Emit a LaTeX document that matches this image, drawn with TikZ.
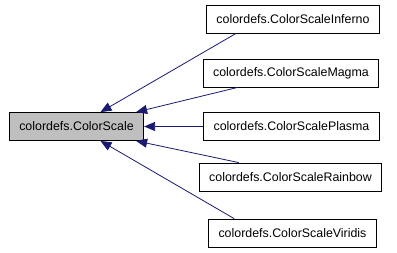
\documentclass[tikz,border=0pt]{standalone}
\usepackage{fontspec}
\setmainfont{Liberation Sans}
\usetikzlibrary{arrows.meta,calc}
\definecolor{edgeblue}{RGB}{25,25,112}
\tikzset{
  x=1pt, y=-1pt,
  cls/.style = {rectangle, draw=black, line width=0.8pt, fill=white, inner xsep=10pt, inner ysep=0pt,
    minimum height=28pt, font=\fontsize{12.4}{14}\selectfont},
  cls_base/.style = {cls, fill={rgb,255:red,191;green,191;blue,191}},
  inherit/.style = {draw=edgeblue, line width=0.8pt, -{Triangle[length=11pt,width=9pt,fill=edgeblue]}}
}

\begin{document}
\begin{tikzpicture}
\useasboundingbox (0,0) rectangle (397,253);
% base class
\node [cls_base] (base) at (76.5,126.5) {colordefs.ColorScale};
% derived classes
\node [cls] (inf) at (293,19) {colordefs.ColorScaleInferno};
\node [cls] (mag) at (291,73) {colordefs.ColorScaleMagma};
\node [cls] (pla) at (291.5,126.5) {colordefs.ColorScalePlasma};
\node [cls] (rai) at (290.5,177) {colordefs.ColorScaleRainbow};
\node [cls] (vir) at (292.5,233) {colordefs.ColorScaleViridis};
% inheritance edges
\draw [inherit] ($(inf.south west)+(30,0)$) -- ($(base.north)+(24,0)$);
\draw [inherit] ($(mag.south west)+(35,0)$) -- ($(base.north east)+(-8,0)$);
\draw [inherit] (pla.west) -- (base.east);
\draw [inherit] ($(rai.north west)+(40,0)$) -- ($(base.south east)+(-8,0)$);
\draw [inherit] ($(vir.north west)+(26,0)$) -- ($(base.south)+(24,0)$);
\end{tikzpicture}
\end{document}
